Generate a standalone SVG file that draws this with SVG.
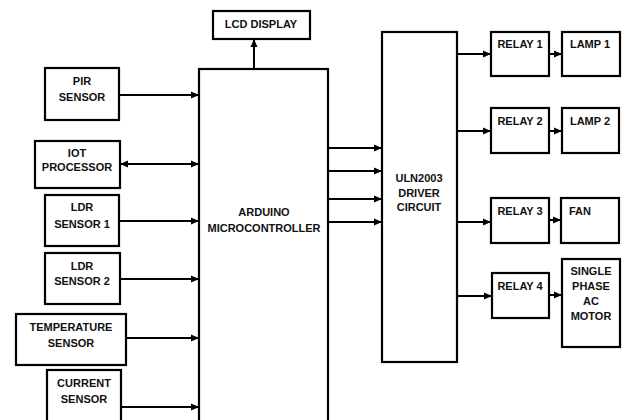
<svg xmlns="http://www.w3.org/2000/svg" width="624" height="420" viewBox="0 0 624 420">
<defs>
<style>
.b{fill:#fff;stroke:#000;stroke-width:2.2}
.t{font-family:"Liberation Sans",Arial,sans-serif;font-weight:bold;font-size:11px;fill:#111;text-anchor:middle}
.c{stroke:#000;stroke-width:2;fill:none}
</style>
<marker id="a" viewBox="0 0 8 8" refX="8" refY="4" markerWidth="8" markerHeight="8" markerUnits="userSpaceOnUse" orient="auto-start-reverse">
<path d="M0,0.5 L8,4 L0,7.5 Z" fill="#000"/>
</marker>
</defs>
<rect width="624" height="420" fill="#fff"/>
<g id="connectors">
<path class="c" d="M119,95 H199" marker-end="url(#a)"/>
<path class="c" d="M120,164 H199" marker-start="url(#a)" marker-end="url(#a)"/>
<path class="c" d="M119,221 H199" marker-end="url(#a)"/>
<path class="c" d="M120,279 H199" marker-end="url(#a)"/>
<path class="c" d="M126,338 H199" marker-end="url(#a)"/>
<path class="c" d="M121,407 H199" marker-end="url(#a)"/>
<path class="c" d="M254,69 V39" marker-end="url(#a)"/>
<path class="c" d="M328,148 H382" marker-end="url(#a)"/>
<path class="c" d="M328,171 H382" marker-end="url(#a)"/>
<path class="c" d="M328,199 H382" marker-end="url(#a)"/>
<path class="c" d="M328,222 H382" marker-end="url(#a)"/>
<path class="c" d="M457,54 H491" marker-end="url(#a)"/>
<path class="c" d="M457,131 H491" marker-end="url(#a)"/>
<path class="c" d="M457,222 H491" marker-end="url(#a)"/>
<path class="c" d="M457,296 H492" marker-end="url(#a)"/>
<path class="c" d="M549,54 H562" marker-end="url(#a)"/>
<path class="c" d="M549,131 H562" marker-end="url(#a)"/>
<path class="c" d="M549,220 H561" marker-end="url(#a)"/>
<path class="c" d="M549,295 H562" marker-end="url(#a)"/>
</g>
<g id="pir"><rect class="b" x="45" y="68" width="74" height="52"/><text class="t" x="82" y="85">PIR</text><text class="t" x="82" y="101">SENSOR</text></g>
<g id="iot"><rect class="b" x="35" y="141" width="85" height="47"/><text class="t" x="77" y="157">IOT</text><text class="t" x="77" y="171">PROCESSOR</text></g>
<g id="ldr1"><rect class="b" x="45" y="195" width="74" height="51"/><text class="t" x="82" y="211">LDR</text><text class="t" x="82" y="228">SENSOR 1</text></g>
<g id="ldr2"><rect class="b" x="45" y="253" width="75" height="51"/><text class="t" x="82" y="270">LDR</text><text class="t" x="82" y="285">SENSOR 2</text></g>
<g id="temp"><rect class="b" x="16" y="314" width="110" height="51"/><text class="t" x="71" y="331">TEMPERATURE</text><text class="t" x="71" y="347">SENSOR</text></g>
<g id="current"><rect class="b" x="47" y="370" width="74" height="55"/><text class="t" x="84" y="387">CURRENT</text><text class="t" x="84" y="403">SENSOR</text></g>
<g id="lcd"><rect class="b" x="213" y="11" width="97" height="28"/><text class="t" x="261" y="28">LCD DISPLAY</text></g>
<g id="arduino"><rect class="b" x="199" y="69" width="129" height="356"/><text class="t" x="264" y="216">ARDUINO</text><text class="t" x="264" y="232">MICROCONTROLLER</text></g>
<g id="uln"><rect class="b" x="382" y="32" width="75" height="330"/><text class="t" x="419" y="182">ULN2003</text><text class="t" x="419" y="197">DRIVER</text><text class="t" x="419" y="211">CIRCUIT</text></g>
<g id="relay1"><rect class="b" x="491" y="32" width="58" height="44"/><text class="t" x="520" y="48">RELAY 1</text></g>
<g id="lamp1"><rect class="b" x="562" y="32" width="58" height="44"/><text class="t" x="590" y="48">LAMP 1</text></g>
<g id="relay2"><rect class="b" x="491" y="108" width="58" height="45"/><text class="t" x="520" y="125">RELAY 2</text></g>
<g id="lamp2"><rect class="b" x="562" y="108" width="57" height="45"/><text class="t" x="590" y="125">LAMP 2</text></g>
<g id="relay3"><rect class="b" x="491" y="198" width="58" height="45"/><text class="t" x="520" y="215">RELAY 3</text></g>
<g id="fan"><rect class="b" x="561" y="198" width="58" height="45"/><text class="t" x="580" y="215">FAN</text></g>
<g id="relay4"><rect class="b" x="492" y="273" width="57" height="45"/><text class="t" x="520" y="290">RELAY 4</text></g>
<g id="motor"><rect class="b" x="562" y="259" width="58" height="88"/><text class="t" x="591" y="275">SINGLE</text><text class="t" x="591" y="290">PHASE</text><text class="t" x="591" y="305">AC</text><text class="t" x="591" y="320">MOTOR</text></g>
</svg>
